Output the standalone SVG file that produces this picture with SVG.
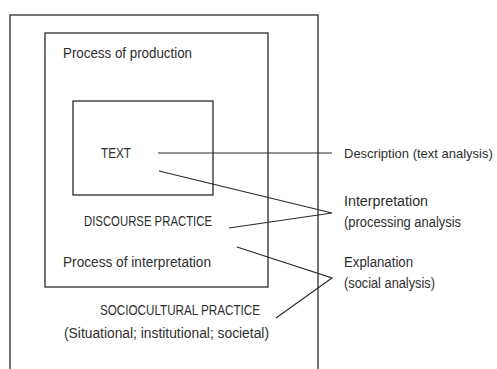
<svg xmlns="http://www.w3.org/2000/svg" width="497" height="369" viewBox="0 0 497 369">
<style>
.box{fill:none;stroke:#2a2a2a;stroke-width:1.3}
.ln{fill:none;stroke:#2a2a2a;stroke-width:1.2}
text{font-family:"Liberation Sans",Arial,sans-serif;font-size:14px;fill:#2e2e2e}
text.sm{font-size:13px}
</style>
<rect width="497" height="369" fill="#fff"/>
<g id="sociocultural">
<rect class="box" x="10" y="15" width="308" height="360"/>
<text x="100" y="315" textLength="160" lengthAdjust="spacingAndGlyphs">SOCIOCULTURAL PRACTICE</text>
<text x="64" y="338" textLength="205" lengthAdjust="spacingAndGlyphs">(Situational; institutional; societal)</text>
</g>
<g id="discourse">
<rect class="box" x="45" y="33" width="223" height="254"/>
<text x="63" y="58" textLength="129" lengthAdjust="spacingAndGlyphs">Process of production</text>
<text x="84" y="226" textLength="128" lengthAdjust="spacingAndGlyphs">DISCOURSE PRACTICE</text>
<text x="63" y="267" textLength="148" lengthAdjust="spacingAndGlyphs">Process of interpretation</text>
</g>
<g id="text">
<rect class="box" x="73" y="101" width="140" height="94"/>
<text x="101" y="158" textLength="30" lengthAdjust="spacingAndGlyphs">TEXT</text>
</g>
<g id="connectors">
<line class="ln" x1="158" y1="153" x2="332" y2="153"/>
<polyline class="ln" points="159,171 332,213 229,228"/>
<polyline class="ln" points="237,247 332,278 276,318"/>
</g>
<g id="description">
<text class="sm" x="344" y="158">Description (text analysis)</text>
</g>
<g id="interpretation">
<text x="344" y="206" textLength="84" lengthAdjust="spacingAndGlyphs">Interpretation</text>
<text x="344" y="227" textLength="117" lengthAdjust="spacingAndGlyphs">(processing analysis</text>
</g>
<g id="explanation">
<text x="344" y="267" textLength="69" lengthAdjust="spacingAndGlyphs">Explanation</text>
<text x="344" y="288" textLength="91" lengthAdjust="spacingAndGlyphs">(social analysis)</text>
</g>
</svg>
